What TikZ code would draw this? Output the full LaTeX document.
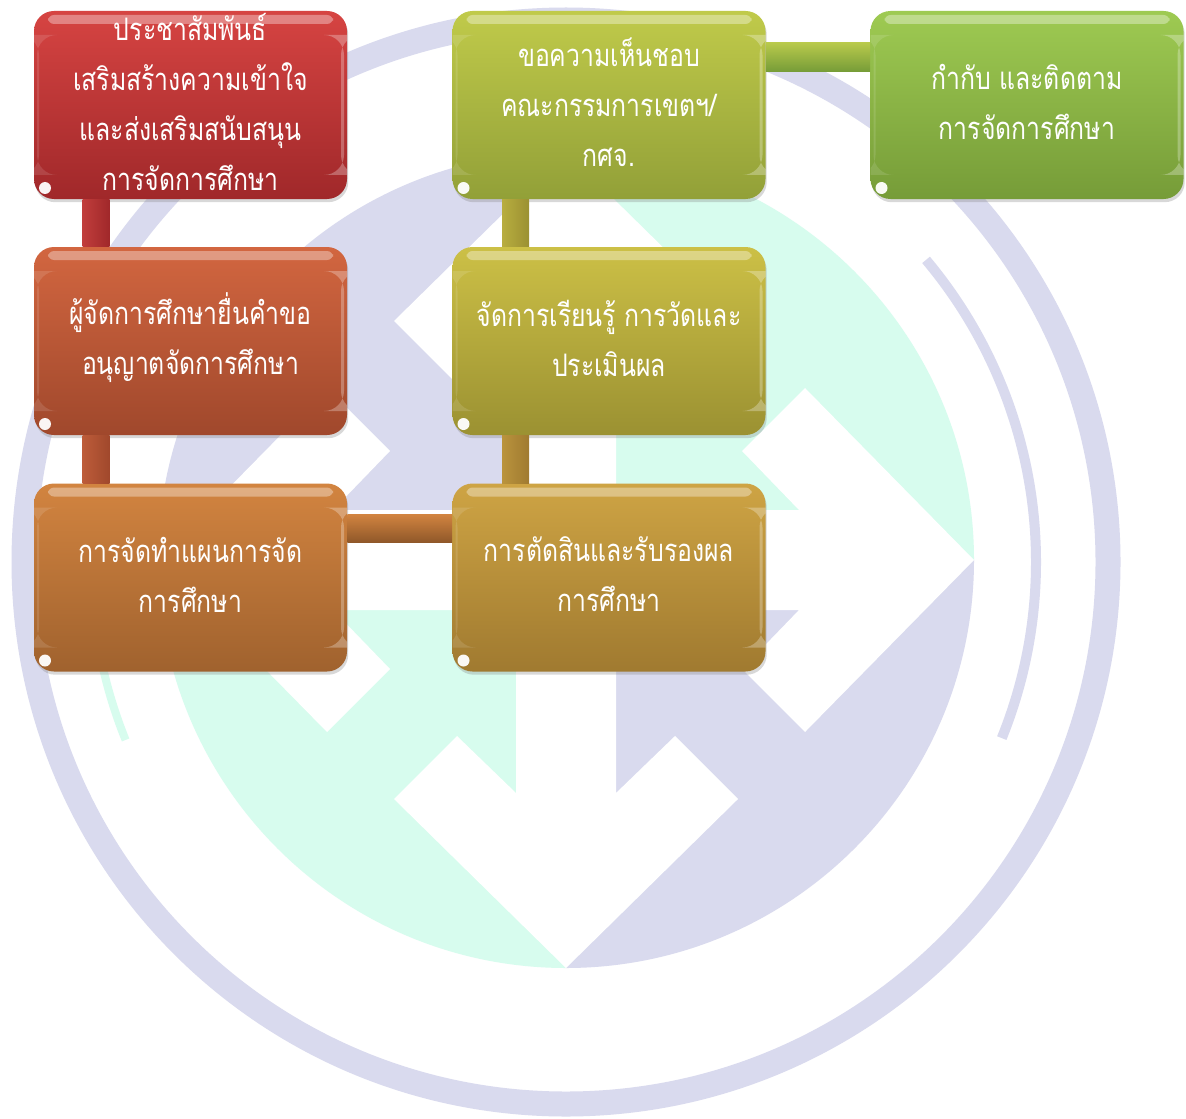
\documentclass[tikz,border=0pt]{standalone}
\usepackage{fontspec}
\newfontfamily\thaifont[Script=Thai,FakeStretch=0.8]{Loma}
\usetikzlibrary{calc,shadows}
\definecolor{lav}{RGB}{217,218,238}
\definecolor{mint}{RGB}{215,252,238}
\definecolor{c1t}{RGB}{214,68,66}\definecolor{c1b}{RGB}{160,40,42}
\definecolor{c2t}{RGB}{210,102,64}\definecolor{c2b}{RGB}{160,72,44}
\definecolor{c3t}{RGB}{210,132,64}\definecolor{c3b}{RGB}{160,98,46}
\definecolor{c4t}{RGB}{206,164,68}\definecolor{c4b}{RGB}{160,122,48}
\definecolor{c5t}{RGB}{204,192,70}\definecolor{c5b}{RGB}{155,145,50}
\definecolor{c6t}{RGB}{192,202,74}\definecolor{c6b}{RGB}{146,160,56}
\definecolor{c7t}{RGB}{158,202,82}\definecolor{c7b}{RGB}{118,156,56}
\tikzset{
  gbox/.style={rounded corners=10pt, minimum width=156.5pt, minimum height=94pt,
    inner sep=0pt, draw=none,
    drop shadow={shadow xshift=0.6pt, shadow yshift=-1.6pt, opacity=0.3},
    path picture={
      \fill[white, opacity=0.35, rounded corners=3pt]
        ($(path picture bounding box.north west)+(14,4)$) rectangle
        ($(path picture bounding box.north east)+(-14,13)$);
      \fill[white, opacity=0.28]
        ($(path picture bounding box.north east)+(-6,24)$) rectangle
        ($(path picture bounding box.south east)+(-3,-24)$);
      \fill[white, opacity=0.12]
        ($(path picture bounding box.north west)+(3,24)$) rectangle
        ($(path picture bounding box.south west)+(5,-24)$);
      \fill[white, opacity=0.95]
        ($(path picture bounding box.south west)+(11,-11)$) circle[radius=6];
    }},
  btext/.style={text=white, align=center, inner sep=0pt,
    font=\thaifont\fontsize{15.5}{25}\selectfont},
}
\begin{document}
\begin{tikzpicture}[x=0.5pt,y=-0.5pt]
\useasboundingbox (0,0) rectangle (1186,1118);
\fill[white] (0,0) rectangle (1186,1118);
% ---- watermark ----
\draw[lav, line width=12.5pt] (566,562) circle[radius=542];
\draw[lav, line width=5pt] (566,562) ++(-40:470) arc[start angle=-40, end angle=22, radius=470];
\draw[mint, line width=4pt] (566,562) ++(158:475) arc[start angle=158, end angle=190, radius=475];
\fill[lav]  (566,560) -- ++(180:408) arc[start angle=180, end angle=270, radius=408] -- cycle;
\fill[mint] (566,560) -- ++(270:408) arc[start angle=270, end angle=360, radius=408] -- cycle;
\fill[lav]  (566,560) -- ++(0:408) arc[start angle=0, end angle=90, radius=408] -- cycle;
\fill[mint] (566,560) -- ++(90:408) arc[start angle=90, end angle=180, radius=408] -- cycle;
\fill[white] (799,510) -- (742,451) -- (805,388) -- (974,560) -- (805,732) -- (742,669) -- (799,610)
  -- (616,610) -- (616,793) -- (675,736) -- (738,799) -- (566,968) -- (394,799) -- (457,736) -- (516,793)
  -- (516,610) -- (333,610) -- (390,669) -- (327,732) -- (158,560) -- (327,388) -- (390,451) -- (333,510)
  -- (516,510) -- (516,327) -- (457,384) -- (394,321) -- (566,152) -- (738,321) -- (675,384) -- (616,327)
  -- (616,510) -- cycle;
% ---- boxes ----
\node[gbox, top color=c1t, bottom color=c1b] (b1) at (190.5,105) {};
\node[gbox, top color=c2t, bottom color=c2b] (b2) at (190.5,341) {};
\node[gbox, top color=c3t, bottom color=c3b] (b3) at (190.5,577.5) {};
\node[gbox, top color=c4t, bottom color=c4b] (b4) at (609,577.5) {};
\node[gbox, top color=c5t, bottom color=c5b] (b5) at (609,341) {};
\node[gbox, top color=c6t, bottom color=c6b] (b6) at (609,105) {};
\node[gbox, top color=c7t, bottom color=c7b] (b7) at (1027,105) {};
% ---- connectors ----
\shade[left color=c1t!90!black, right color=c1b] ($(b1.south west)+(49,0)$) rectangle ($(b2.north west)+(76,0)$);
\shade[left color=c2t!90!black, right color=c2b] ($(b2.south west)+(49,0)$) rectangle ($(b3.north west)+(76,0)$);
\shade[top color=c3t, bottom color=c3b!90!black] ($(b3.north east)+(0,31)$) rectangle ($(b4.north west)+(0,59)$);
\shade[left color=c4t!90!black, right color=c4b] ($(b4.north west)+(50,0)$) rectangle ($(b5.south west)+(77,0)$);
\shade[left color=c5t!90!black, right color=c5b] ($(b5.north west)+(50,0)$) rectangle ($(b6.south west)+(77,0)$);
\shade[top color=c6t!80!c7t, bottom color=c7b] ($(b6.north east)+(0,32)$) rectangle ($(b7.north west)+(0,61)$);
% ---- texts ----
\node[btext] (t1) at ($(b1.center)+(0,-3)$) {ประชาสัมพันธ์\\เสริมสร้างความเข้าใจ\\และส่งเสริมสนับสนุน\\การจัดการศึกษา};
\node[btext] (t2) at ($(b2.center)+(0,-3)$) {ผู้จัดการศึกษายื่นคำขอ\\อนุญาตจัดการศึกษา};
\node[btext] (t3) at ($(b3.center)+(0,-3)$) {การจัดทำแผนการจัด\\การศึกษา};
\node[btext] (t4) at ($(b4.center)+(0,-3)$) {การตัดสินและรับรองผล\\การศึกษา};
\node[btext] (t5) at ($(b5.center)+(0,-3)$) {จัดการเรียนรู้ การวัดและ\\ประเมินผล};
\node[btext] (t6) at ($(b6.center)+(0,-3)$) {ขอความเห็นชอบ\\คณะกรรมการเขตฯ/\\กศจ.};
\node[btext] (t7) at ($(b7.center)+(0,-3)$) {กำกับ และติดตาม\\การจัดการศึกษา};
\end{tikzpicture}
\end{document}
